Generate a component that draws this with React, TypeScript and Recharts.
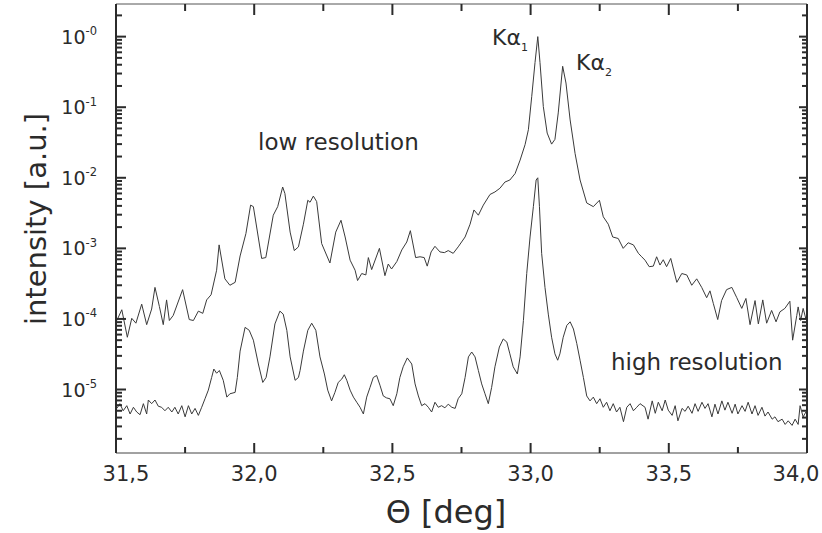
import React from "react";
import { LineChart, Line, XAxis, YAxis } from "recharts";

// theta [deg], intensity [a.u.]
const lowRes: [number, number][] = [
  [31.503, 9.5e-5], [31.521, 1.35e-4], [31.541, 5.5e-5], [31.557, 1.02e-4], [31.572, 8.7e-5],
  [31.593, 1.62e-4], [31.611, 8.3e-5], [31.629, 1.38e-4], [31.641, 2.8e-4], [31.657, 1.5e-4],
  [31.671, 8.3e-5], [31.683, 1.86e-4], [31.693, 9.5e-5], [31.707, 1.12e-4], [31.741, 2.6e-4],
  [31.765, 9.8e-5], [31.78, 9.5e-5], [31.798, 1.29e-4], [31.814, 1.2e-4], [31.828, 1.86e-4],
  [31.844, 2.2e-4], [31.864, 4.9e-4], [31.873, 1.12e-3], [31.894, 3.7e-4], [31.912, 3.0e-4],
  [31.931, 3.3e-4], [31.949, 7.8e-4], [31.97, 1.62e-3], [31.987, 4.1e-3], [31.997, 3.9e-3],
  [32.027, 7.2e-4], [32.042, 7.4e-4], [32.069, 2.95e-3], [32.085, 3.9e-3], [32.103, 7.4e-3],
  [32.111, 6.0e-3], [32.13, 1.7e-3], [32.145, 9.3e-4], [32.16, 1.05e-3], [32.178, 2.2e-3],
  [32.194, 4.8e-3], [32.202, 4.5e-3], [32.214, 5.5e-3], [32.226, 4.6e-3], [32.244, 1.17e-3],
  [32.274, 6.2e-4], [32.295, 1.7e-3], [32.314, 2.5e-3], [32.329, 1.45e-3], [32.347, 6.8e-4],
  [32.365, 4.9e-4], [32.374, 3.5e-4], [32.389, 4.4e-4], [32.404, 4.2e-4], [32.413, 7.4e-4],
  [32.425, 5.0e-4], [32.453, 1.0e-3], [32.473, 4.1e-4], [32.485, 6.0e-4], [32.497, 5.1e-4],
  [32.516, 6.5e-4], [32.534, 9.5e-4], [32.552, 1.23e-3], [32.565, 1.78e-3], [32.584, 7.4e-4],
  [32.6, 7.6e-4], [32.615, 7.4e-4], [32.626, 5.6e-4], [32.64, 8.9e-4], [32.654, 1.07e-3],
  [32.672, 8.9e-4], [32.688, 8.7e-4], [32.702, 9.3e-4], [32.72, 8.5e-4], [32.738, 1.05e-3],
  [32.763, 1.45e-3], [32.781, 2.2e-3], [32.795, 3.5e-3], [32.811, 2.95e-3], [32.829, 4.1e-3],
  [32.853, 5.8e-3], [32.871, 6.3e-3], [32.889, 7.1e-3], [32.907, 8.7e-3], [32.925, 9.3e-3],
  [32.944, 1.15e-2], [32.962, 1.78e-2], [32.98, 2.95e-2], [32.992, 4.8e-2], [33.004, 0.141],
  [33.016, 0.43], [33.026, 1.0], [33.034, 0.43], [33.046, 0.102], [33.06, 4.3e-2],
  [33.076, 3.0e-2], [33.088, 3.5e-2], [33.1, 8.3e-2], [33.116, 0.38], [33.128, 0.22],
  [33.143, 6.6e-2], [33.161, 2.2e-2], [33.179, 9.3e-3], [33.203, 4.4e-3], [33.227, 3.9e-3],
  [33.249, 4.8e-3], [33.263, 2.8e-3], [33.281, 2.2e-3], [33.297, 1.45e-3], [33.317, 1.38e-3],
  [33.335, 1.0e-3], [33.353, 1.2e-3], [33.372, 1.12e-3], [33.39, 8.5e-4], [33.402, 7.6e-4],
  [33.414, 6.8e-4], [33.429, 5.5e-4], [33.444, 5.6e-4], [33.456, 7.6e-4], [33.468, 5.8e-4],
  [33.48, 6.9e-4], [33.492, 5.5e-4], [33.507, 7.2e-4], [33.529, 3.3e-4], [33.547, 4.4e-4],
  [33.565, 4.2e-4], [33.583, 3.0e-4], [33.601, 3.7e-4], [33.619, 2.8e-4], [33.637, 2.0e-4],
  [33.649, 2.5e-4], [33.661, 1.66e-4], [33.677, 9.8e-5], [33.691, 1.82e-4], [33.709, 2.6e-4],
  [33.728, 2.8e-4], [33.746, 2.0e-4], [33.764, 1.41e-4], [33.779, 1.95e-4], [33.794, 8.3e-5],
  [33.812, 1.82e-4], [33.824, 8.5e-5], [33.84, 1.86e-4], [33.854, 8.7e-5], [33.872, 1.32e-4],
  [33.888, 9.1e-5], [33.902, 1.26e-4], [33.92, 1.41e-4], [33.938, 1.78e-4], [33.948, 5.0e-5],
  [33.963, 1.12e-4], [33.968, 1.48e-4], [33.977, 9.5e-5], [33.986, 1.41e-4], [33.996, 1.0e-4],
];

const highRes: [number, number][] = [
  [31.503, 5.4e-6], [31.514, 6.3e-6], [31.526, 5.0e-6], [31.539, 5.9e-6], [31.551, 4.5e-6],
  [31.563, 5.6e-6], [31.575, 4.8e-6], [31.587, 4.4e-6], [31.599, 6.3e-6], [31.611, 4.5e-6],
  [31.617, 7.1e-6], [31.629, 6.3e-6], [31.641, 7.1e-6], [31.653, 5.8e-6], [31.665, 5.6e-6],
  [31.677, 5.0e-6], [31.689, 5.6e-6], [31.702, 4.8e-6], [31.713, 5.6e-6], [31.725, 4.5e-6],
  [31.738, 5.9e-6], [31.75, 4.1e-6], [31.762, 5.9e-6], [31.774, 4.5e-6], [31.786, 5.4e-6],
  [31.798, 4.3e-6], [31.81, 5.6e-6], [31.822, 7.4e-6], [31.834, 9.8e-6], [31.846, 1.48e-5],
  [31.854, 1.95e-5], [31.864, 1.7e-5], [31.874, 1.86e-5], [31.888, 1.35e-5], [31.901, 7.8e-6],
  [31.912, 8.7e-6], [31.931, 9.1e-6], [31.939, 1.48e-5], [31.949, 3.5e-5], [31.967, 7.6e-5],
  [31.982, 6.9e-5], [31.997, 5.0e-5], [32.015, 2.3e-5], [32.031, 1.26e-5], [32.043, 1.48e-5],
  [32.057, 2.9e-5], [32.075, 8.5e-5], [32.093, 1.29e-4], [32.105, 1.17e-4], [32.118, 6.9e-5],
  [32.13, 2.9e-5], [32.148, 1.35e-5], [32.16, 1.48e-5], [32.166, 1.86e-5], [32.178, 3.5e-5],
  [32.194, 6.9e-5], [32.208, 8.7e-5], [32.223, 6.9e-5], [32.238, 2.9e-5], [32.254, 1.66e-5],
  [32.266, 9.8e-6], [32.28, 6.9e-6], [32.292, 9.1e-6], [32.304, 1.26e-5], [32.317, 1.41e-5],
  [32.326, 1.62e-5], [32.335, 1.35e-5], [32.347, 9.8e-6], [32.359, 7.8e-6], [32.371, 6.6e-6],
  [32.383, 5.6e-6], [32.395, 4.5e-6], [32.407, 7.8e-6], [32.419, 1.07e-5], [32.431, 1.48e-5],
  [32.443, 1.58e-5], [32.455, 1.15e-5], [32.467, 8.1e-6], [32.479, 7.6e-6], [32.491, 7.4e-6],
  [32.503, 5.9e-6], [32.516, 8.7e-6], [32.527, 1.48e-5], [32.539, 2.1e-5], [32.554, 2.8e-5],
  [32.57, 2.3e-5], [32.582, 1.2e-5], [32.594, 8.1e-6], [32.606, 5.9e-6], [32.618, 6.3e-6],
  [32.63, 5.6e-6], [32.642, 4.8e-6], [32.654, 6.6e-6], [32.666, 5.6e-6], [32.678, 5.9e-6],
  [32.69, 5.5e-6], [32.702, 6.2e-6], [32.715, 5.6e-6], [32.727, 5.4e-6], [32.738, 7.4e-6],
  [32.751, 8.7e-6], [32.763, 1.48e-5], [32.775, 2.9e-5], [32.787, 3.4e-5], [32.799, 2.9e-5],
  [32.811, 1.86e-5], [32.823, 1.2e-5], [32.835, 8.7e-6], [32.847, 6.3e-6], [32.859, 1.07e-5],
  [32.871, 2.1e-5], [32.887, 4.0e-5], [32.901, 5.2e-5], [32.914, 4.7e-5], [32.925, 3.2e-5],
  [32.937, 2.1e-5], [32.952, 1.66e-5], [32.962, 2.9e-5], [32.974, 9.5e-5], [32.986, 4.4e-4],
  [32.998, 1.45e-3], [33.01, 3.9e-3], [33.02, 9.3e-3], [33.026, 1.0e-2], [33.032, 3.9e-3],
  [33.04, 8.5e-4], [33.052, 2.8e-4], [33.064, 1.17e-4], [33.076, 5.5e-5], [33.088, 3.2e-5],
  [33.098, 2.6e-5], [33.106, 3.2e-5], [33.118, 5.5e-5], [33.131, 8.1e-5], [33.143, 9.1e-5],
  [33.155, 7.2e-5], [33.167, 4.5e-5], [33.179, 2.6e-5], [33.191, 1.48e-5], [33.203, 8.1e-6],
  [33.215, 6.9e-6], [33.227, 7.8e-6], [33.239, 6.3e-6], [33.251, 7.4e-6], [33.263, 5.6e-6],
  [33.275, 6.6e-6], [33.287, 5.0e-6], [33.299, 6.3e-6], [33.311, 4.8e-6], [33.323, 5.6e-6],
  [33.336, 3.5e-6], [33.348, 5.6e-6], [33.36, 6.3e-6], [33.372, 5.0e-6], [33.384, 5.6e-6],
  [33.396, 6.3e-6], [33.414, 5.6e-6], [33.425, 3.8e-6], [33.44, 6.9e-6], [33.451, 4.6e-6],
  [33.462, 6.6e-6], [33.476, 5.0e-6], [33.487, 7.1e-6], [33.498, 5.1e-6], [33.512, 4.3e-6],
  [33.523, 5.9e-6], [33.533, 3.6e-6], [33.548, 5.4e-6], [33.559, 4.9e-6], [33.57, 5.8e-6],
  [33.584, 4.6e-6], [33.595, 6.3e-6], [33.606, 4.9e-6], [33.62, 6.6e-6], [33.631, 5.4e-6],
  [33.642, 6.3e-6], [33.656, 4.1e-6], [33.667, 6.2e-6], [33.678, 4.5e-6], [33.692, 6.9e-6],
  [33.703, 5.1e-6], [33.714, 6.6e-6], [33.729, 4.6e-6], [33.74, 6.2e-6], [33.75, 4.5e-6],
  [33.765, 5.9e-6], [33.776, 4.9e-6], [33.787, 6.6e-6], [33.801, 4.5e-6], [33.812, 5.9e-6],
  [33.823, 4.3e-6], [33.837, 5.6e-6], [33.848, 4.2e-6], [33.859, 4.8e-6], [33.874, 3.8e-6],
  [33.884, 4.1e-6], [33.895, 3.5e-6], [33.91, 3.8e-6], [33.921, 3.2e-6], [33.932, 3.6e-6],
  [33.946, 3.1e-6], [33.957, 3.8e-6], [33.968, 3.2e-6], [33.975, 5.9e-6], [33.986, 4.1e-6],
  [33.996, 4.8e-6],
];

const thetaTicks = [31.5, 31.75, 32, 32.25, 32.5, 32.75, 33, 33.25, 33.5, 33.75, 34];
const thetaMajor = [31.5, 32, 32.5, 33, 33.5, 34];
const decades = [1e-6, 1e-5, 1e-4, 1e-3, 1e-2, 1e-1, 1];
const yMajor = [1e-5, 1e-4, 1e-3, 1e-2, 1e-1, 1];
const yDomain = [1.26e-6, 2.9];

const yTicks: number[] = [];
decades.forEach((d) => {
  [1, 2, 3, 4, 5, 6, 7, 8, 9].forEach((m) => {
    const v = m * d;
    if (v >= yDomain[0] && v <= yDomain[1]) yTicks.push(v);
  });
});

const lowData = lowRes.map(([theta, v]) => ({ theta, v }));
const highData = highRes.map(([theta, v]) => ({ theta, v }));

const FONT = "'DejaVu Sans', sans-serif";
const INK = "#2b2b2b";

const isMajorY = (v: number) => yMajor.some((m) => Math.abs(m - v) / m < 1e-6);
const isMajorX = (v: number) => thetaMajor.some((m) => Math.abs(m - v) < 1e-6);

const BottomTick = (props: any) => {
  const { x, y, payload } = props;
  const v = payload.value;
  const major = isMajorX(v);
  // end labels are pulled inside the frame, as in the original
  const dx = v === 31.5 ? 10 : v === 34 ? -11 : 0;
  return (
    <g>
      <line x1={x} x2={x} y1={y} y2={y - (major ? 10 : 6)} stroke={INK} strokeWidth={2} />
      {major && (
        <text x={x + dx} y={y + 28} textAnchor="middle" fontSize={21} fill={INK} fontFamily={FONT}>
          {v.toFixed(1).replace(".", ",")}
        </text>
      )}
    </g>
  );
};

const TopTick = (props: any) => {
  const { x, y, payload } = props;
  const major = isMajorX(payload.value);
  return <line x1={x} x2={x} y1={y} y2={y + (major ? 11 : 7)} stroke={INK} strokeWidth={2} />;
};

const LeftTick = (props: any) => {
  const { x, y, payload } = props;
  const major = isMajorY(payload.value);
  const exp = Math.round(Math.log10(payload.value));
  return (
    <g>
      <line x1={x} x2={x + (major ? 10 : 6)} y1={y} y2={y} stroke={INK} strokeWidth={2} />
      {major && (
        <text x={x - 19} y={y + 7} textAnchor="end" fontSize={19} fill={INK} fontFamily={FONT}>
          10
          <tspan dy={-8.5} fontSize={11.5}>{`-${Math.abs(exp)}`}</tspan>
        </text>
      )}
    </g>
  );
};

const RightTick = (props: any) => {
  const { x, y, payload } = props;
  const major = isMajorY(payload.value);
  return <line x1={x} x2={x - (major ? 8 : 5)} y1={y} y2={y} stroke={INK} strokeWidth={2} />;
};

export default function App() {
  return (
    <div style={{ position: "absolute", left: 0, top: 0, width: 822, height: 533, background: "#fff" }}>
      <LineChart width={822} height={533} margin={{ top: 3, right: 0, bottom: 0, left: 0 }}>
        <XAxis
          xAxisId="bottom"
          dataKey="theta"
          type="number"
          domain={[31.5, 34]}
          ticks={thetaTicks}
          interval={0}
          allowDataOverflow
          height={80}
          tickSize={0}
          tickMargin={0}
          tickLine={false}
          axisLine={{ stroke: "#444", strokeWidth: 1 }}
          tick={BottomTick}
        />
        <XAxis
          xAxisId="top"
          orientation="top"
          dataKey="theta"
          type="number"
          domain={[31.5, 34]}
          ticks={thetaTicks}
          interval={0}
          allowDataOverflow
          height={1}
          tickSize={0}
          tickMargin={0}
          tickLine={false}
          axisLine={{ stroke: "#555", strokeWidth: 1 }}
          tick={TopTick}
        />
        <YAxis
          yAxisId="left"
          type="number"
          scale="log"
          domain={yDomain}
          ticks={yTicks}
          interval={0}
          allowDataOverflow
          width={116}
          tickSize={0}
          tickMargin={0}
          tickLine={false}
          axisLine={{ stroke: INK, strokeWidth: 2 }}
          tick={LeftTick}
        />
        <YAxis
          yAxisId="right"
          orientation="right"
          type="number"
          scale="log"
          domain={yDomain}
          ticks={yTicks}
          interval={0}
          allowDataOverflow
          width={15}
          tickSize={0}
          tickMargin={0}
          tickLine={false}
          axisLine={{ stroke: INK, strokeWidth: 2 }}
          tick={RightTick}
        />
        <Line
          data={lowData}
          dataKey="v"
          xAxisId="bottom"
          yAxisId="left"
          type="linear"
          dot={false}
          stroke="#3a3a3a"
          strokeWidth={1}
          isAnimationActive={false}
        />
        <Line
          data={highData}
          dataKey="v"
          xAxisId="bottom"
          yAxisId="left"
          type="linear"
          dot={false}
          stroke="#3a3a3a"
          strokeWidth={1}
          isAnimationActive={false}
        />
      </LineChart>
      <svg
        width={822}
        height={533}
        style={{ position: "absolute", left: 0, top: 0, pointerEvents: "none" }}
        fontFamily={FONT}
        fill={INK}
      >
        <text x={46} y={219} fontSize={29} textAnchor="middle" transform="rotate(-90 46 219)">
          intensity [a.u.]
        </text>
        <text x={446} y={523} fontSize={32} textAnchor="middle">
          Θ [deg]
        </text>
        <text x={258} y={150} fontSize={23}>
          low resolution
        </text>
        <text x={611} y={370} fontSize={23}>
          high resolution
        </text>
        <text x={492} y={45} fontSize={22}>
          Kα<tspan fontSize={11} dy={6}>1</tspan>
        </text>
        <text x={576} y={70} fontSize={22}>
          Kα<tspan fontSize={11} dy={6}>2</tspan>
        </text>
      </svg>
    </div>
  );
}
